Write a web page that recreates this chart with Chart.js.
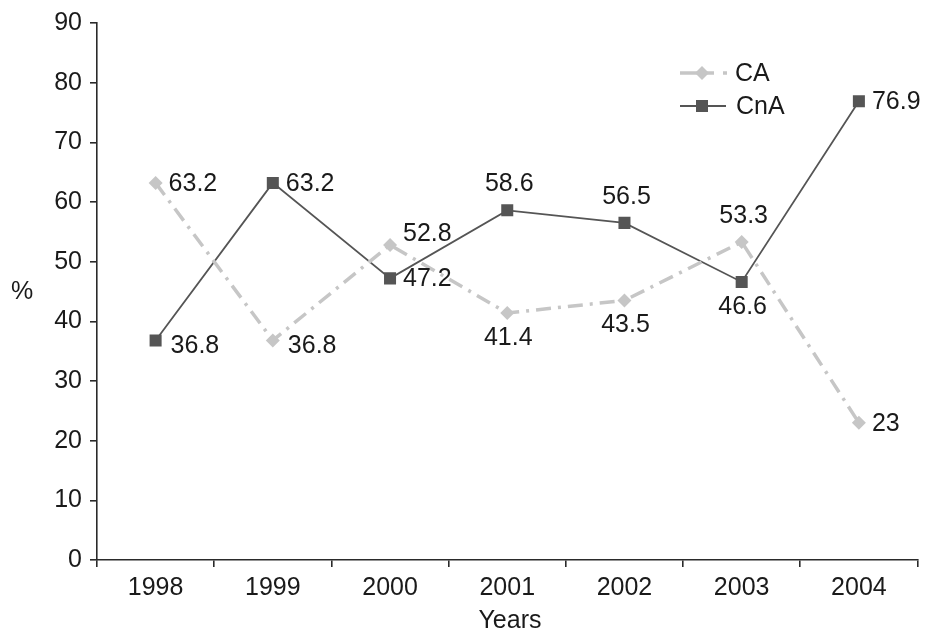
<!DOCTYPE html>
<html>
<head>
<meta charset="utf-8">
<script src="https://cdn.jsdelivr.net/npm/chart.js@4/dist/chart.umd.min.js"></script>
<style>
  html, body { margin: 0; padding: 0; background: #fff; }
  #wrap { width: 926px; height: 635px; }
</style>
</head>
<body>
<div id="wrap"><canvas id="c" width="926" height="635"></canvas></div>
<script>
// Share of cases per year, two groups
const years = ['1998', '1999', '2000', '2001', '2002', '2003', '2004'];
const caValues = [63.2, 36.8, 52.8, 41.4, 43.5, 53.3, 23];
const cnaValues = [36.8, 63.2, 47.2, 58.6, 56.5, 46.6, 76.9];
const yTicks = [0, 10, 20, 30, 40, 50, 60, 70, 80, 90];

// where each value label sits relative to its point
const caLabelPos = ['right', 'rightLow', 'rightHigh', 'below', 'below', 'above', 'right'];
const cnaLabelPos = ['rightLow', 'right', 'right', 'above', 'above', 'below', 'right'];

const FONT = '"Liberation Sans", Arial, Helvetica, sans-serif';
const FONT_SIZE = 25;
const TEXT = '#1a1a1a';
const AXIS = '#2a2a2a';
const CA_COLOR = '#c6c6c6';
const CNA_COLOR = '#555555';

const placements = {
  right:     { align: 'left',   dx: 13, dy: 1 },
  rightLow:  { align: 'left',   dx: 15, dy: 6 },
  rightHigh: { align: 'left',   dx: 13, dy: -11 },
  above:     { align: 'center', dx: 2,  dy: -26 },
  below:     { align: 'center', dx: 1,  dy: 25 }
};

const valueLabels = {
  id: 'valueLabels',
  afterDatasetsDraw(chart) {
    const ctx = chart.ctx;
    ctx.save();
    ctx.font = FONT_SIZE + 'px ' + FONT;
    ctx.fillStyle = TEXT;
    ctx.textBaseline = 'middle';
    chart.data.datasets.forEach((ds, di) => {
      const meta = chart.getDatasetMeta(di);
      meta.data.forEach((pt, i) => {
        const p = placements[ds.labelPos[i]];
        ctx.textAlign = p.align;
        ctx.fillText(String(ds.data[i]), pt.x + p.dx, pt.y + p.dy);
      });
    });
    ctx.restore();
  }
};

const legendAndTitles = {
  id: 'legendAndTitles',
  afterDraw(chart) {
    const ctx = chart.ctx;
    ctx.save();
    ctx.font = FONT_SIZE + 'px ' + FONT;
    ctx.fillStyle = TEXT;
    ctx.textAlign = 'center';
    ctx.textBaseline = 'middle';
    // axis titles
    ctx.fillText('%', 22, 292);
    ctx.fillText('Years', 510, 621);

    // legend: CA (light, dash-dot, diamond)
    const yCA = 73, yCnA = 106, mx = 702;
    ctx.strokeStyle = CA_COLOR;
    ctx.lineWidth = 3.5;
    ctx.beginPath(); ctx.moveTo(680, yCA); ctx.lineTo(714, yCA); ctx.stroke();
    ctx.beginPath(); ctx.moveTo(723, yCA); ctx.lineTo(727, yCA); ctx.stroke();
    ctx.fillStyle = CA_COLOR;
    ctx.beginPath();
    ctx.moveTo(mx, yCA - 7); ctx.lineTo(mx + 7, yCA); ctx.lineTo(mx, yCA + 7); ctx.lineTo(mx - 7, yCA);
    ctx.closePath(); ctx.fill();
    ctx.fillStyle = TEXT;
    ctx.textAlign = 'left';
    ctx.fillText('CA', 735, yCA + 1);

    // legend: CnA (dark, solid, square)
    ctx.strokeStyle = CNA_COLOR;
    ctx.lineWidth = 1.8;
    ctx.beginPath(); ctx.moveTo(680, yCnA); ctx.lineTo(726, yCnA); ctx.stroke();
    ctx.fillStyle = CNA_COLOR;
    ctx.fillRect(mx - 6, yCnA - 6, 12, 12);
    ctx.fillStyle = TEXT;
    ctx.fillText('CnA', 736, yCnA + 1);
    ctx.restore();
  }
};

new Chart(document.getElementById('c'), {
  type: 'line',
  data: {
    labels: years,
    datasets: [
      {
        label: 'CA',
        data: caValues,
        labelPos: caLabelPos,
        borderColor: CA_COLOR,
        backgroundColor: CA_COLOR,
        borderWidth: 3.5,
        borderDash: [15, 7, 3, 7],
        pointStyle: 'rectRot',
        pointRadius: 7,
        pointBorderWidth: 0,
        pointBackgroundColor: CA_COLOR,
        tension: 0
      },
      {
        label: 'CnA',
        data: cnaValues,
        labelPos: cnaLabelPos,
        borderColor: CNA_COLOR,
        backgroundColor: CNA_COLOR,
        borderWidth: 1.8,
        pointStyle: 'rect',
        pointRadius: 8.5,
        pointBorderWidth: 0,
        pointBackgroundColor: CNA_COLOR,
        tension: 0
      }
    ]
  },
  options: {
    responsive: false,
    animation: false,
    layout: { padding: { top: 10, right: 7, left: 0, bottom: 0 } },
    plugins: { legend: { display: false }, tooltip: { enabled: false } },
    scales: {
      x: {
        offset: true,
        afterFit(scale) { scale.height = 75; },
        grid: { offset: true, drawOnChartArea: false, drawTicks: true, tickLength: 7, color: AXIS, lineWidth: 1.6 },
        border: { color: AXIS, width: 1.6 },
        ticks: { font: { family: FONT, size: FONT_SIZE }, color: TEXT, padding: 6, maxRotation: 0 }
      },
      y: {
        min: 0,
        max: 90,
        afterBuildTicks(scale) { scale.ticks = yTicks.map(v => ({ value: v })); },
        afterFit(scale) { scale.width = 97; },
        grid: { drawOnChartArea: false, drawTicks: true, tickLength: 7, color: AXIS, lineWidth: 1.6 },
        border: { color: AXIS, width: 1.6 },
        ticks: { font: { family: FONT, size: FONT_SIZE }, color: TEXT, padding: 8 }
      }
    }
  },
  plugins: [valueLabels, legendAndTitles]
});
</script>
</body>
</html>
